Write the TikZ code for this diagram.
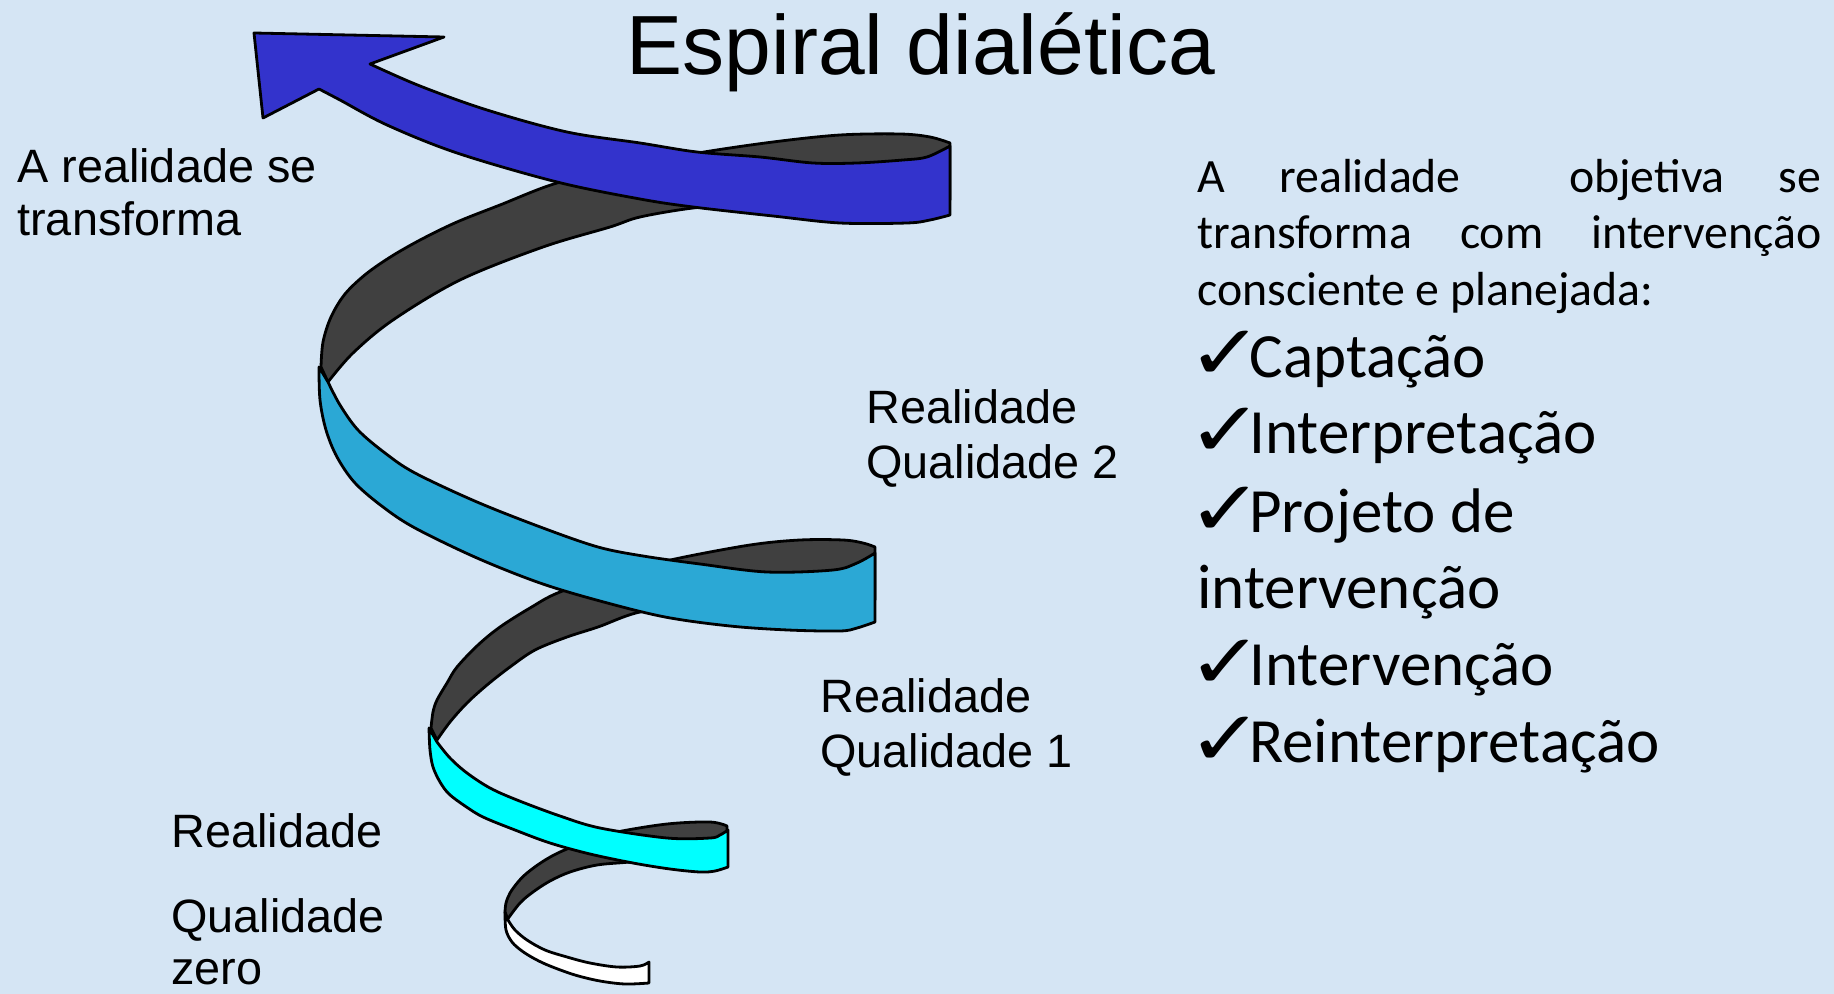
\documentclass[tikz,border=0pt]{standalone}
\usepackage{fontspec}
\usepackage{graphicx}
\setmainfont{Liberation Sans}
\newfontfamily\bodyfont{Carlito}
\newfontfamily\checkfont{DejaVu Sans}

\definecolor{paper}{RGB}{213,229,244}
\definecolor{bandblue}{RGB}{51,51,204}
\definecolor{bandteal}{RGB}{43,168,213}
\definecolor{bandcyan}{RGB}{0,255,255}
\definecolor{bandback}{RGB}{64,64,64}

% check-mark bullet of the list
\newcommand{\tick}{\makebox[25pt][l]{\hspace*{-6pt}\raisebox{-1.5pt}{\scalebox{0.95}[0.8]{\checkfont\fontsize{48}{48}\selectfont ✓}}}}

\tikzset{
  rib/.style={draw=black, line width=1.4pt, line join=round},
  label/.style={inner sep=0pt, anchor=base west, font=\fontsize{23.4}{28}\selectfont},
  para/.style={inner sep=0pt, anchor=base west, font=\bodyfont\fontsize{23.9}{28}\selectfont},
  item/.style={inner sep=0pt, anchor=base west, font=\bodyfont\fontsize{31.5}{38}\selectfont},
  sm/.style={smooth, tension=0.55}
}

\begin{document}
\begin{tikzpicture}[x=0.5pt, y=-0.5pt]
  % page and background
  \useasboundingbox (0,0) rectangle (1834,994);
  \fill[paper] (0,0) rectangle (1834,994);

  % ---- back (dark) sides of the spiral ----
  % upper turn, behind the arrow band
  \filldraw[rib, fill=bandback]
    plot[sm] coordinates {(321,367) (323,342) (331,317) (345,294) (366,274) (392,256) (422,239) (457,222) (500,205) (557,183) (630,166) (698,153) (773,142) (840,135) (900,134) (930,137) (950,143)}
    -- (950,200)
    -- plot[sm] coordinates {(950,200) (880,204) (800,205) (740,205) (693,208) (640,217) (610,227) (543,247) (460,280) (393,320) (353,353) (328,382)}
    -- cycle;
  % middle turn, behind the teal band
  \filldraw[rib, fill=bandback]
    plot[sm] coordinates {(431,728) (433,712) (437,700) (447,683) (457,667) (478,645) (500,627) (530,608) (560,592) (620,573) (675,559) (750,545) (800,540) (843,540) (863,543) (875,547)}
    -- (875,600)
    -- plot[sm] coordinates {(875,600) (800,606) (700,605) (640,612) (598,627) (567,637) (535,650) (510,667) (487,685) (467,703) (450,722) (437,740)}
    -- cycle;
  % lower turn, behind the cyan band
  \filldraw[rib, fill=bandback]
    plot[sm] coordinates {(505,912) (506,903) (510,893) (518,882) (527,873) (542,862) (560,852) (590,840) (617,832) (667,824) (710,822) (727,826)}
    -- (727,850)
    -- plot[sm] coordinates {(727,850) (680,857) (630,862) (597,865) (570,872) (550,881) (533,892) (520,903) (507,920)}
    -- cycle;

  % ---- front bands ----
  % quality zero (white)
  \filldraw[rib, fill=white]
    plot[sm] coordinates {(505,912) (506,930) (512,942) (522,951) (535,959) (550,966) (575,975) (600,981) (625,984) (649,983)}
    -- (649,962)
    -- plot[sm] coordinates {(649,962) (640,966) (617,967) (590,963) (567,957) (545,950) (527,940) (515,930) (508,920)}
    -- cycle;
  % quality 1 (cyan)
  \filldraw[rib, fill=bandcyan]
    plot[sm] coordinates {(429,728) (430,750) (433,767) (440,782) (449,794) (465,806) (483,817) (515,830) (550,843) (590,854) (633,863) (670,869) (700,872) (715,871) (728,867)}
    -- (728,830)
    -- plot[sm] coordinates {(728,830) (720,835) (710,838) (667,838) (600,828) (560,816) (517,800) (490,788) (467,773) (450,758) (437,742)}
    -- cycle;
  % quality 2 (teal)
  \filldraw[rib, fill=bandteal]
    plot[sm] coordinates {(319,367) (320,400) (326,430) (337,457) (355,483) (383,507) (415,528) (477,558) (540,583) (600,601) (665,617) (730,626) (788,630) (840,631) (857,628) (875,622)}
    -- (875,553)
    -- plot[sm] coordinates {(875,553) (857,563) (833,570) (767,572) (700,564) (643,556) (598,547) (543,528) (477,502) (415,473) (385,453) (358,430) (340,405) (328,382)}
    -- cycle;
  % top band ending in the arrow head (blue)
  \filldraw[rib, fill=bandblue]
    (254,33) -- (444,37) -- (370,64)
    -- plot[sm] coordinates {(370,64) (420,86) (487,110) (567,132) (640,143) (697,152) (760,157) (813,163) (857,163) (903,160) (927,157) (950,146)}
    -- (950,215)
    -- plot[sm] coordinates {(950,215) (930,220) (907,223) (840,223) (773,216) (693,207) (640,199) (557,182) (457,153) (387,125) (340,100) (319,89)}
    -- (263,118) -- cycle;

  % ---- title ----
  \node[inner sep=0pt, anchor=base, font=\fontsize{42}{50}\selectfont] (title) at (921,75) {Espiral dialética};

  % ---- labels beside the spiral ----
  \node[label] (top1) at (17,183) {A realidade se};
  \node[label] (top2) at (17,236) {transforma};
  \node[label] (q2a) at (866,423) {Realidade};
  \node[label] (q2b) at (866,478) {Qualidade 2};
  \node[label] (q1a) at (820,712) {Realidade};
  \node[label] (q1b) at (820,767) {Qualidade 1};
  \node[label] (q0a) at (171,847) {Realidade};
  \node[label] (q0b) at (171,932) {Qualidade};
  \node[label] (q0c) at (171,984) {zero};

  % ---- text on the right ----
  \node[para] (p1) at (1197,193) {\makebox[312pt][s]{A\hfill realidade\hfill\hfill objetiva\hfill se}};
  \node[para] (p2) at (1197,249) {\makebox[312pt][s]{transforma\hfill com\hfill intervenção}};
  \node[para] (p3) at (1197,306) {consciente e planejada:};

  \node[item] (i1) at (1199,377) {\tick Captação};
  \node[item] (i2) at (1199,453) {\tick Interpretação};
  \node[item] (i3) at (1199,532) {\tick Projeto de};
  \node[item] (i3b) at (1197,608) {intervenção};
  \node[item] (i4) at (1199,685) {\tick Intervenção};
  \node[item] (i5) at (1199,762) {\tick Reinterpretação};
\end{tikzpicture}
\end{document}
